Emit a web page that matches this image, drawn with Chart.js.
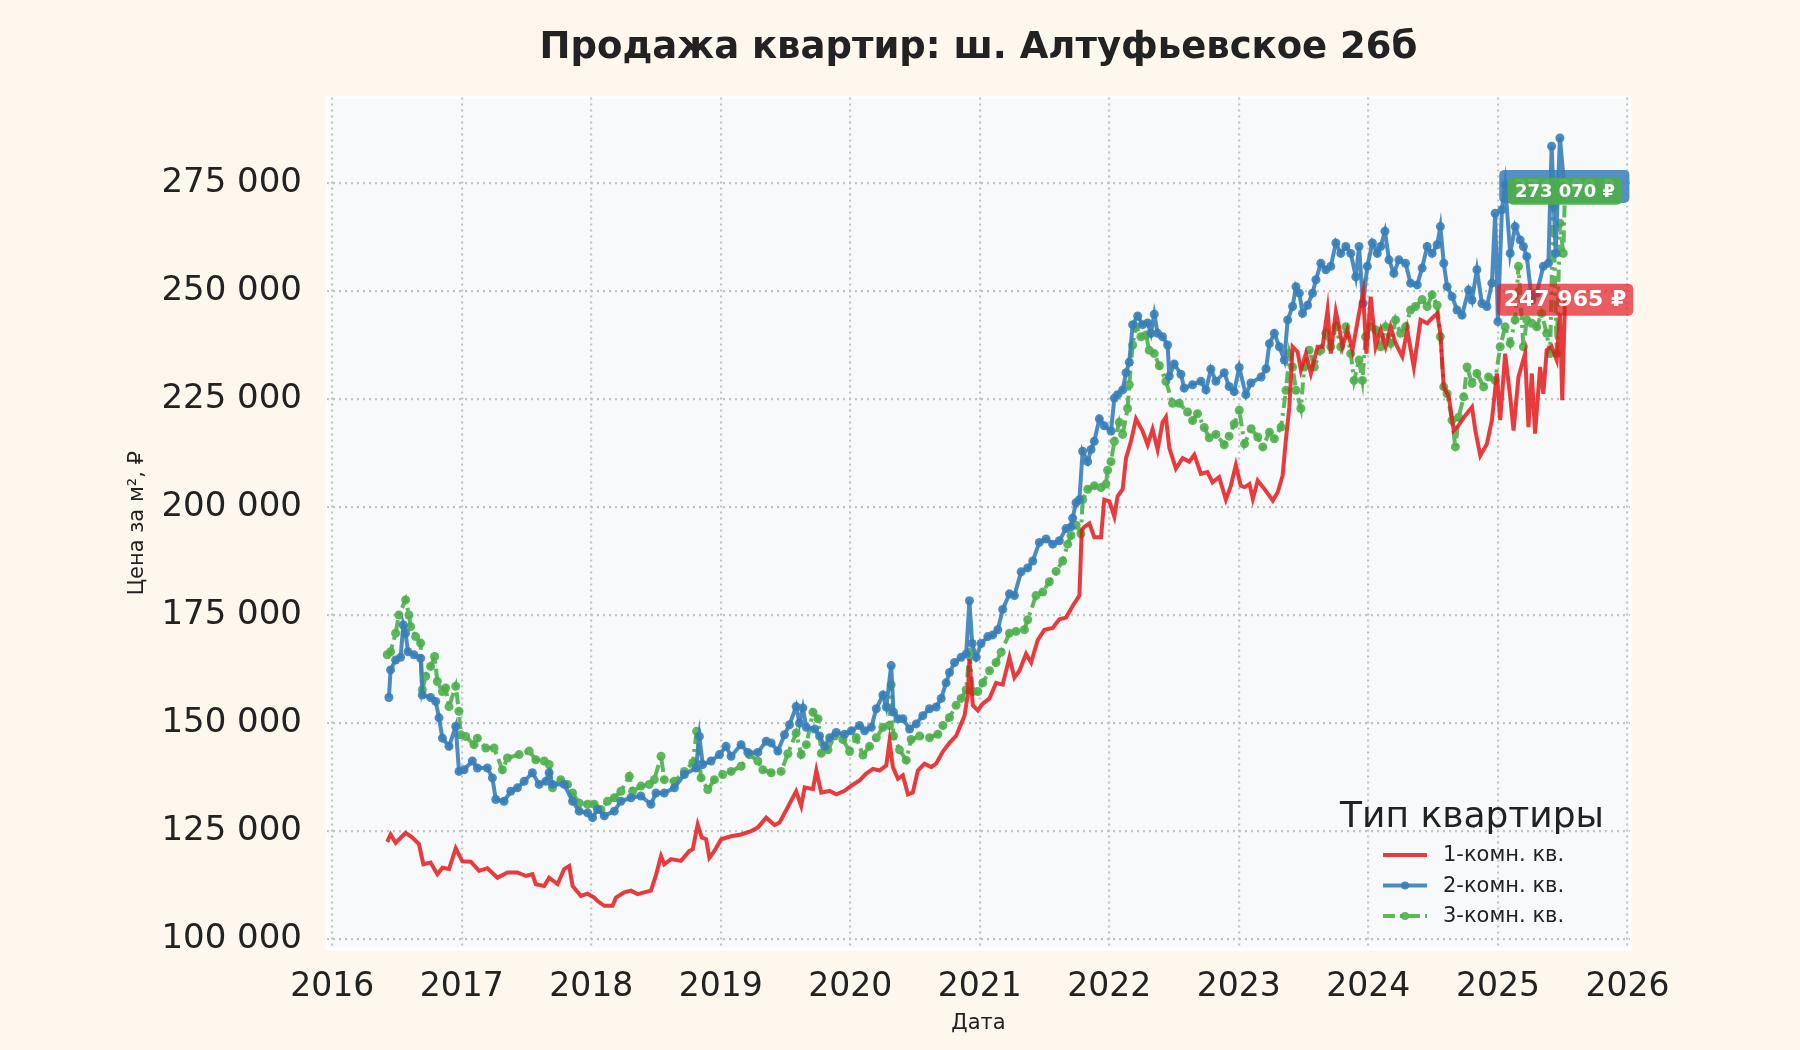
<!DOCTYPE html>
<html lang="ru">
<head>
<meta charset="utf-8">
<title>Продажа квартир: ш. Алтуфьевское 26б</title>
<script src="https://cdn.jsdelivr.net/npm/chart.js@4.4.1/dist/chart.umd.min.js"></script>
<style>
  html, body { margin: 0; padding: 0; background: #fef7ee; }
  #wrap { width: 1800px; height: 1050px; position: relative; }
</style>
</head>
<body>
<div id="wrap"><canvas id="salesChart"></canvas></div>
<script>
// Axis ticks
const yearTicks = [2016, 2017, 2018, 2019, 2020, 2021, 2022, 2023, 2024, 2025, 2026];
const priceTicks = [100000, 125000, 150000, 175000, 200000, 225000, 250000, 275000];

// 1-комн. кв.
const oneRoomDates = [
  2016.425, 2016.451, 2016.490, 2016.567, 2016.619, 2016.670, 2016.704, 2016.760, 2016.812, 2016.851,
  2016.902, 2016.954, 2017.005, 2017.070, 2017.134, 2017.198, 2017.276, 2017.353, 2017.430, 2017.495,
  2017.546, 2017.572, 2017.637, 2017.675, 2017.740, 2017.791, 2017.830, 2017.856, 2017.920, 2017.972,
  2018.023, 2018.049, 2018.101, 2018.165, 2018.191, 2018.255, 2018.307, 2018.358, 2018.410, 2018.461,
  2018.500, 2018.539, 2018.564, 2018.616, 2018.693, 2018.758, 2018.784, 2018.822, 2018.853, 2018.887,
  2018.912, 2018.951, 2019.003, 2019.080, 2019.157, 2019.235, 2019.286, 2019.351, 2019.415, 2019.454,
  2019.505, 2019.582, 2019.621, 2019.648, 2019.712, 2019.738, 2019.776, 2019.841, 2019.892, 2019.956,
  2020.008, 2020.072, 2020.123, 2020.175, 2020.226, 2020.278, 2020.303, 2020.329, 2020.368, 2020.406,
  2020.445, 2020.483, 2020.522, 2020.573, 2020.625, 2020.663, 2020.715, 2020.766, 2020.817, 2020.856,
  2020.882, 2020.907, 2020.920, 2020.946, 2020.985, 2021.023, 2021.075, 2021.126, 2021.177, 2021.229,
  2021.267, 2021.306, 2021.357, 2021.396, 2021.447, 2021.499, 2021.563, 2021.614, 2021.666, 2021.717,
  2021.769, 2021.787, 2021.807, 2021.846, 2021.884, 2021.936, 2021.961, 2022.000, 2022.039, 2022.064,
  2022.103, 2022.129, 2022.167, 2022.206, 2022.257, 2022.296, 2022.334, 2022.373, 2022.411, 2022.437,
  2022.463, 2022.514, 2022.566, 2022.617, 2022.656, 2022.707, 2022.758, 2022.797, 2022.848, 2022.900,
  2022.938, 2022.977, 2023.015, 2023.044, 2023.082, 2023.108, 2023.146, 2023.197, 2023.262, 2023.300,
  2023.338, 2023.364, 2023.390, 2023.415, 2023.454, 2023.479, 2023.518, 2023.556, 2023.608, 2023.646,
  2023.685, 2023.710, 2023.749, 2023.774, 2023.800, 2023.838, 2023.877, 2023.928, 2023.959, 2023.985,
  2024.018, 2024.056, 2024.095, 2024.133, 2024.172, 2024.210, 2024.262, 2024.300, 2024.351, 2024.403,
  2024.454, 2024.492, 2024.531, 2024.556, 2024.582, 2024.621, 2024.659, 2024.697, 2024.749, 2024.800,
  2024.826, 2024.864, 2024.915, 2024.954, 2024.992, 2025.018, 2025.056, 2025.095, 2025.121, 2025.159,
  2025.210, 2025.236, 2025.262, 2025.287, 2025.326, 2025.351, 2025.377, 2025.415, 2025.454, 2025.479,
  2025.497, 2025.518
];
const oneRoomPrices = [
  122500, 124200, 122300, 124600, 123500, 122000, 117300, 117700, 115000, 116500,
  116200, 121000, 118000, 117900, 115800, 116400, 114200, 115400, 115400, 114600,
  115000, 112700, 112300, 114200, 112700, 116200, 116900, 112300, 110000, 110500,
  109600, 108800, 107700, 107700, 109600, 110800, 111200, 110400, 110800, 111200,
  114800, 119200, 117300, 118500, 118100, 120400, 120800, 126500, 123500, 123100,
  118800, 120400, 123100, 123800, 124200, 125000, 125800, 128100, 126400, 127000,
  129800, 134200, 130800, 135100, 134700, 139000, 133900, 134300, 133500, 134300,
  135500, 136700, 138300, 139400, 139000, 140200, 145800, 139800, 137100, 137900,
  133500, 133900, 139000, 140600, 139800, 140600, 143400, 145400, 147000, 149800,
  151700, 156500, 164800, 154100, 152900, 154500, 155700, 159300, 158900, 165200,
  160500, 162100, 166000, 164000, 169200, 171600, 172000, 174000, 174400, 177100,
  179500, 194600, 195400, 196200, 193000, 193000, 201700, 201300, 197800, 202500,
  204100, 211300, 215200, 220400, 217600, 214400, 218000, 213300, 219600, 220800,
  213700, 208900, 211300, 210500, 212100, 207700, 208100, 205700, 206900, 201700,
  204900, 209700, 204900, 204600, 205300, 201900, 206100, 204200, 201500, 203400,
  207300, 215800, 223100, 237100, 235900, 231700, 235500, 230900, 237100, 237100,
  245600, 235500, 245200, 241700, 237100, 241000, 236300, 244800, 249500, 235500,
  248700, 237100, 241000, 237100, 241700, 237900, 234800, 241000, 232400, 243300,
  242500, 243700, 244800, 240200, 227800, 225500, 217700, 218900, 221200, 223100,
  217700, 211900, 214600, 220100, 230900, 220100, 235500, 225500, 217700, 230100,
  235500, 218500, 230900, 217000, 232400, 226200, 236300, 237100, 234000, 244800,
  224700, 247965
];

// 2-комн. кв.
const twoRoomDates = [
  2016.438, 2016.451, 2016.490, 2016.528, 2016.549, 2016.567, 2016.585, 2016.631, 2016.683, 2016.696,
  2016.760, 2016.799, 2016.825, 2016.851, 2016.902, 2016.954, 2016.979, 2017.018, 2017.082, 2017.121,
  2017.198, 2017.237, 2017.263, 2017.327, 2017.379, 2017.430, 2017.482, 2017.546, 2017.598, 2017.649,
  2017.675, 2017.701, 2017.791, 2017.856, 2017.907, 2017.972, 2018.010, 2018.049, 2018.101, 2018.178,
  2018.229, 2018.307, 2018.384, 2018.461, 2018.500, 2018.564, 2018.642, 2018.719, 2018.809, 2018.835,
  2018.861, 2018.925, 2018.990, 2019.041, 2019.080, 2019.157, 2019.209, 2019.286, 2019.351, 2019.389,
  2019.441, 2019.492, 2019.531, 2019.582, 2019.608, 2019.634, 2019.661, 2019.725, 2019.763, 2019.802,
  2019.841, 2019.892, 2019.956, 2020.008, 2020.072, 2020.111, 2020.162, 2020.201, 2020.252, 2020.278,
  2020.316, 2020.334, 2020.368, 2020.406, 2020.458, 2020.509, 2020.560, 2020.612, 2020.663, 2020.702,
  2020.740, 2020.766, 2020.805, 2020.856, 2020.895, 2020.920, 2020.941, 2020.972, 2021.010, 2021.062,
  2021.100, 2021.139, 2021.177, 2021.229, 2021.267, 2021.319, 2021.370, 2021.409, 2021.460, 2021.512,
  2021.563, 2021.614, 2021.666, 2021.704, 2021.717, 2021.743, 2021.769, 2021.794, 2021.833, 2021.859,
  2021.884, 2021.923, 2021.961, 2022.013, 2022.039, 2022.064, 2022.103, 2022.129, 2022.154, 2022.180,
  2022.219, 2022.257, 2022.296, 2022.321, 2022.347, 2022.373, 2022.411, 2022.450, 2022.463, 2022.501,
  2022.553, 2022.578, 2022.643, 2022.707, 2022.746, 2022.784, 2022.823, 2022.887, 2022.925, 2022.964,
  2023.003, 2023.054, 2023.093, 2023.172, 2023.210, 2023.236, 2023.274, 2023.313, 2023.351, 2023.377,
  2023.415, 2023.441, 2023.467, 2023.492, 2023.531, 2023.569, 2023.595, 2023.633, 2023.672, 2023.710,
  2023.749, 2023.787, 2023.826, 2023.864, 2023.903, 2023.928, 2023.959, 2023.992, 2024.031, 2024.069,
  2024.095, 2024.128, 2024.159, 2024.197, 2024.236, 2024.287, 2024.326, 2024.377, 2024.415, 2024.454,
  2024.492, 2024.531, 2024.556, 2024.582, 2024.608, 2024.646, 2024.685, 2024.723, 2024.774, 2024.800,
  2024.838, 2024.877, 2024.915, 2024.954, 2024.979, 2025.000, 2025.031, 2025.056, 2025.095, 2025.133,
  2025.172, 2025.197, 2025.223, 2025.262, 2025.300, 2025.351, 2025.390, 2025.415, 2025.446, 2025.479,
  2025.513
];
const twoRoomPrices = [
  155900, 162300, 164600, 165200, 172700, 170800, 166500, 165800, 165000, 156500,
  155900, 155000, 151200, 146500, 144600, 149200, 138800, 139200, 141200, 139600,
  139600, 137300, 132300, 131900, 134200, 135000, 136500, 138500, 135800, 136500,
  138500, 135800, 135800, 131900, 129600, 129200, 128100, 130000, 128500, 129600,
  131900, 132700, 133100, 131200, 133800, 133800, 135000, 138100, 139600, 146900,
  140400, 141200, 142700, 144600, 142300, 145000, 143200, 143200, 145800, 145400,
  143500, 147300, 149600, 153800, 150000, 153500, 149000, 148600, 147000, 144600,
  146600, 147800, 147400, 148200, 149400, 148200, 149000, 153300, 156500, 153700,
  163300, 152500, 151000, 151000, 148600, 149800, 151700, 153300, 153700, 155700,
  159300, 161700, 164000, 165200, 166000, 178300, 168400, 165200, 168400, 170000,
  170400, 171600, 176300, 179900, 179500, 185000, 185900, 187500, 191800, 192600,
  191400, 192200, 195000, 195400, 197400, 201000, 201700, 212900, 210500, 213300,
  215200, 220400, 218800, 217600, 225200, 226000, 227100, 231100, 233500, 242200,
  244200, 242200, 242600, 240200, 244600, 240200, 239400, 237500, 230300, 233100,
  230700, 227500, 228300, 229100, 227100, 231900, 229100, 231100, 227900, 226700,
  232300, 226000, 228700, 230100, 232000, 237800, 240200, 237100, 234000, 243300,
  246400, 251000, 249500, 244800, 246700, 249500, 252600, 256400, 254900, 255700,
  261100, 258700, 260300, 258700, 253300, 260300, 247100, 255700, 261100, 258700,
  260300, 263800, 257200, 254100, 257200, 256400, 251800, 251400, 255300, 260300,
  258700, 260700, 264900, 256400, 251000, 248700, 245600, 244400, 250200, 247900,
  254900, 247100, 246400, 251800, 268000, 242900, 268800, 274600, 258700, 264900,
  261800, 260300, 258000, 247900, 249500, 255700, 256400, 283500, 258700, 285400,
  274200
];

// 3-комн. кв.
const threeRoomDates = [
  2016.425, 2016.451, 2016.490, 2016.515, 2016.567, 2016.593, 2016.606, 2016.644, 2016.683, 2016.696,
  2016.722, 2016.760, 2016.791, 2016.812, 2016.851, 2016.876, 2016.902, 2016.954, 2016.979, 2016.992,
  2017.031, 2017.095, 2017.121, 2017.186, 2017.250, 2017.314, 2017.353, 2017.443, 2017.521, 2017.572,
  2017.637, 2017.675, 2017.701, 2017.765, 2017.817, 2017.856, 2017.907, 2017.972, 2018.023, 2018.075,
  2018.126, 2018.178, 2018.229, 2018.294, 2018.320, 2018.384, 2018.448, 2018.487, 2018.539, 2018.564,
  2018.642, 2018.719, 2018.784, 2018.814, 2018.848, 2018.900, 2018.951, 2019.015, 2019.080, 2019.157,
  2019.222, 2019.286, 2019.325, 2019.389, 2019.466, 2019.518, 2019.582, 2019.621, 2019.661, 2019.712,
  2019.751, 2019.776, 2019.828, 2019.879, 2019.943, 2019.995, 2020.046, 2020.098, 2020.149, 2020.201,
  2020.252, 2020.303, 2020.316, 2020.334, 2020.380, 2020.432, 2020.470, 2020.535, 2020.612, 2020.676,
  2020.715, 2020.766, 2020.817, 2020.856, 2020.895, 2020.920, 2020.946, 2020.985, 2021.023, 2021.075,
  2021.126, 2021.165, 2021.229, 2021.280, 2021.344, 2021.370, 2021.434, 2021.486, 2021.537, 2021.589,
  2021.640, 2021.679, 2021.704, 2021.743, 2021.781, 2021.794, 2021.833, 2021.884, 2021.936, 2021.974,
  2021.987, 2022.013, 2022.039, 2022.077, 2022.103, 2022.141, 2022.154, 2022.180, 2022.206, 2022.244,
  2022.283, 2022.308, 2022.347, 2022.386, 2022.437, 2022.488, 2022.540, 2022.604, 2022.643, 2022.681,
  2022.733, 2022.771, 2022.823, 2022.887, 2022.925, 2022.964, 2023.003, 2023.044, 2023.095, 2023.146,
  2023.185, 2023.236, 2023.274, 2023.326, 2023.364, 2023.390, 2023.415, 2023.441, 2023.479, 2023.505,
  2023.544, 2023.582, 2023.633, 2023.672, 2023.710, 2023.749, 2023.787, 2023.826, 2023.864, 2023.890,
  2023.928, 2023.954, 2023.979, 2024.018, 2024.056, 2024.095, 2024.133, 2024.172, 2024.210, 2024.249,
  2024.287, 2024.326, 2024.364, 2024.415, 2024.454, 2024.492, 2024.531, 2024.556, 2024.582, 2024.608,
  2024.646, 2024.672, 2024.697, 2024.736, 2024.762, 2024.800, 2024.838, 2024.890, 2024.928, 2024.979,
  2025.018, 2025.056, 2025.095, 2025.133, 2025.159, 2025.197, 2025.223, 2025.262, 2025.300, 2025.338,
  2025.377, 2025.403, 2025.428, 2025.454, 2025.479, 2025.505, 2025.518
];
const threeRoomPrices = [
  165800, 166500, 170800, 175000, 178500, 175000, 172300, 170000, 168500, 157700,
  160800, 163100, 165400, 159600, 157300, 158100, 153800, 158500, 152700, 147300,
  146900, 145000, 146500, 144200, 144200, 139200, 141900, 142700, 143500, 141500,
  141200, 140400, 135000, 136900, 135800, 133800, 131500, 131200, 131200, 130000,
  131900, 132700, 134200, 137700, 134200, 135400, 135800, 136900, 142300, 136900,
  136500, 138800, 140800, 148100, 137300, 134600, 136900, 138100, 138800, 140000,
  142700, 141200, 139200, 138500, 138800, 142900, 147700, 142700, 145000, 152500,
  151000, 143000, 143800, 147000, 146200, 143400, 146600, 142600, 144600, 146600,
  149000, 149400, 158900, 147000, 143800, 141400, 146200, 147000, 146600, 147400,
  149400, 151300, 154100, 155700, 157700, 166400, 157300, 157300, 159300, 162100,
  164000, 166400, 170800, 171200, 171600, 173900, 179500, 180300, 182700, 185100,
  187500, 191400, 193400, 195800, 193800, 201700, 204100, 204900, 204500, 205300,
  208500, 210500, 215200, 219600, 216800, 222800, 228300, 237500, 241800, 239400,
  239800, 236300, 235500, 232700, 229100, 224000, 224000, 222000, 220000, 221600,
  218400, 216000, 216800, 214400, 216400, 219200, 222400, 214600, 218100, 216200,
  213900, 217300, 215800, 218500, 227000, 235500, 232400, 227000, 222800, 232400,
  236300, 232400, 236300, 240200, 237100, 241700, 237100, 241700, 235500, 229300,
  234000, 229300, 239400, 241700, 241000, 237100, 241700, 237900, 243300, 240200,
  241700, 245600, 246400, 248000, 246400, 249100, 246700, 239400, 227800, 226200,
  220100, 213900, 220800, 225500, 232400, 228600, 230900, 227800, 230100, 229300,
  237100, 241700, 237900, 243300, 255700, 237100, 243300, 242500, 241700, 244800,
  240200, 235500, 269600, 235500, 265700, 258700, 273070
];

const RED = '228, 26, 28';
const BLUE = '55, 126, 184';
const GREEN = '77, 175, 74';
const FONT = "'DejaVu Sans', 'Noto Sans', sans-serif";

function toPoints(dates, prices) {
  return dates.map((x, i) => ({ x: x, y: prices[i] }));
}

function spaced(v) {
  return String(Math.round(v)).replace(/\B(?=(\d{3})+(?!\d))/g, ' ');
}

// plot background and page colour
const backdrop = {
  id: 'backdrop',
  beforeDraw(chart) {
    const { ctx, chartArea: a } = chart;
    ctx.save();
    ctx.fillStyle = '#fef7ee';
    ctx.fillRect(0, 0, chart.width, chart.height);
    ctx.fillStyle = '#f8f9fa';
    ctx.fillRect(a.left, a.top, a.right - a.left, a.bottom - a.top);
    ctx.strokeStyle = '#ffffff';
    ctx.lineWidth = 3;
    ctx.strokeRect(a.left, a.top, a.right - a.left, a.bottom - a.top);
    ctx.restore();
  }
};

function roundBox(ctx, x, y, w, h, r) {
  ctx.beginPath();
  ctx.moveTo(x + r, y);
  ctx.arcTo(x + w, y, x + w, y + h, r);
  ctx.arcTo(x + w, y + h, x, y + h, r);
  ctx.arcTo(x, y + h, x, y, r);
  ctx.arcTo(x, y, x + w, y, r);
  ctx.closePath();
}

// last-value badges at the end of each series (green sits on top of blue)
const badgeStyle = [
  { font: 22, padX: 14, h: 32, alpha: 0.7 },
  { font: 18, padX: 30, h: 33, alpha: 0.85 },
  { font: 18, padX: 14, h: 27, alpha: 0.92 }
];
const lastValues = {
  id: 'lastValues',
  afterDatasetsDraw(chart) {
    const { ctx } = chart;
    const xs = chart.scales.x, ys = chart.scales.y;
    ctx.save();
    [1, 2, 0].forEach(i => {
      const ds = chart.data.datasets[i];
      const st = badgeStyle[i];
      const last = ds.data[ds.data.length - 1];
      const px = xs.getPixelForValue(last.x);
      const py = ys.getPixelForValue(last.y);
      const text = spaced(last.y) + ' ₽';
      ctx.font = 'bold ' + st.font + 'px ' + FONT;
      const w = ctx.measureText(text).width + st.padX;
      roundBox(ctx, px - w / 2, py - st.h / 2, w, st.h, 5);
      ctx.fillStyle = 'rgba(' + ds.rgb + ', ' + st.alpha + ')';
      ctx.fill();
      ctx.fillStyle = '#ffffff';
      ctx.textAlign = 'center';
      ctx.textBaseline = 'middle';
      ctx.fillText(text, px, py + 1);
    });
    ctx.restore();
  }
};

// legend drawn inside the plot, bottom right
const cornerLegend = {
  id: 'cornerLegend',
  afterDraw(chart) {
    const { ctx } = chart;
    const a = chart.chartArea;
    const cx = a.right - 158;
    ctx.save();
    ctx.fillStyle = '#222222';
    ctx.textAlign = 'center';
    ctx.textBaseline = 'alphabetic';
    ctx.font = '36px ' + FONT;
    ctx.fillText('Тип квартиры', cx, a.bottom - 122);
    ctx.font = '21px ' + FONT;
    ctx.textAlign = 'left';
    ctx.textBaseline = 'middle';
    chart.data.datasets.forEach((ds, i) => {
      const y = a.bottom - 94 + i * 30.5;
      const x0 = a.right - 247, x1 = a.right - 203;
      ctx.strokeStyle = ds.borderColor;
      ctx.lineWidth = 4;
      ctx.setLineDash(ds.borderDash || []);
      ctx.beginPath();
      ctx.moveTo(x0, y);
      ctx.lineTo(x1, y);
      ctx.stroke();
      ctx.setLineDash([]);
      if (ds.pointRadius > 0) {
        ctx.fillStyle = ds.borderColor;
        ctx.beginPath();
        ctx.arc((x0 + x1) / 2, y, 4, 0, Math.PI * 2);
        ctx.fill();
      }
      ctx.fillStyle = '#222222';
      ctx.fillText(ds.label, a.right - 187, y + 1);
    });
    ctx.restore();
  }
};

const gridStyle = {
  color: '#c2c2c2',
  lineWidth: 2.2,
  drawTicks: false
};

const config = {
  type: 'line',
  data: {
    datasets: [
      {
        label: '1-комн. кв.',
        rgb: RED,
        data: toPoints(oneRoomDates, oneRoomPrices),
        borderColor: 'rgba(' + RED + ', 0.85)',
        borderWidth: 4,
        pointRadius: 0,
        tension: 0
      },
      {
        label: '2-комн. кв.',
        rgb: BLUE,
        data: toPoints(twoRoomDates, twoRoomPrices),
        borderColor: 'rgba(' + BLUE + ', 0.9)',
        backgroundColor: 'rgba(' + BLUE + ', 0.9)',
        borderWidth: 4,
        pointRadius: 4.5,
        pointBorderWidth: 0,
        tension: 0
      },
      {
        label: '3-комн. кв.',
        rgb: GREEN,
        data: toPoints(threeRoomDates, threeRoomPrices),
        borderColor: 'rgba(' + GREEN + ', 0.9)',
        backgroundColor: 'rgba(' + GREEN + ', 0.9)',
        borderWidth: 4,
        borderDash: [12, 5, 3, 5],
        pointRadius: 4.5,
        pointBorderWidth: 0,
        tension: 0
      }
    ]
  },
  options: {
    responsive: true,
    maintainAspectRatio: false,
    animation: false,
    layout: { padding: { left: 121, right: 170, top: 0, bottom: 10 } },
    plugins: {
      legend: { display: false },
      tooltip: { enabled: false },
      title: {
        display: true,
        fullSize: false,
        text: 'Продажа квартир: ш. Алтуфьевское 26б',
        color: '#222222',
        font: { family: FONT, size: 37, weight: 'bold' },
        padding: { top: 26, bottom: 27 }
      }
    },
    scales: {
      x: {
        type: 'linear',
        min: 2015.96,
        max: 2026.02,
        border: { display: false, dash: [2, 4] },
        grid: gridStyle,
        afterBuildTicks: axis => { axis.ticks = yearTicks.map(v => ({ value: v })); },
        afterFit: axis => { axis.height = 91; },
        ticks: {
          color: '#222222',
          padding: 19,
          maxRotation: 0,
          font: { family: FONT, size: 33 },
          callback: v => String(v)
        },
        title: {
          display: true,
          text: 'Дата',
          color: '#222222',
          font: { family: FONT, size: 21 },
          padding: { top: 4, bottom: 4 }
        }
      },
      y: {
        min: 97700,
        max: 294800,
        border: { display: false, dash: [2, 4] },
        grid: gridStyle,
        afterBuildTicks: axis => { axis.ticks = priceTicks.map(v => ({ value: v })); },
        afterFit: axis => { axis.width = 206; },
        ticks: {
          color: '#222222',
          padding: 25,
          font: { family: FONT, size: 34 },
          callback: v => spaced(v)
        },
        title: {
          display: true,
          text: 'Цена за м², ₽',
          color: '#222222',
          font: { family: FONT, size: 21 },
          padding: { top: 4, bottom: 4 }
        }
      }
    }
  },
  plugins: [backdrop, lastValues, cornerLegend]
};

const ctx = document.getElementById('salesChart').getContext('2d');
const salesChart = new Chart(ctx, config);
</script>
</body>
</html>
